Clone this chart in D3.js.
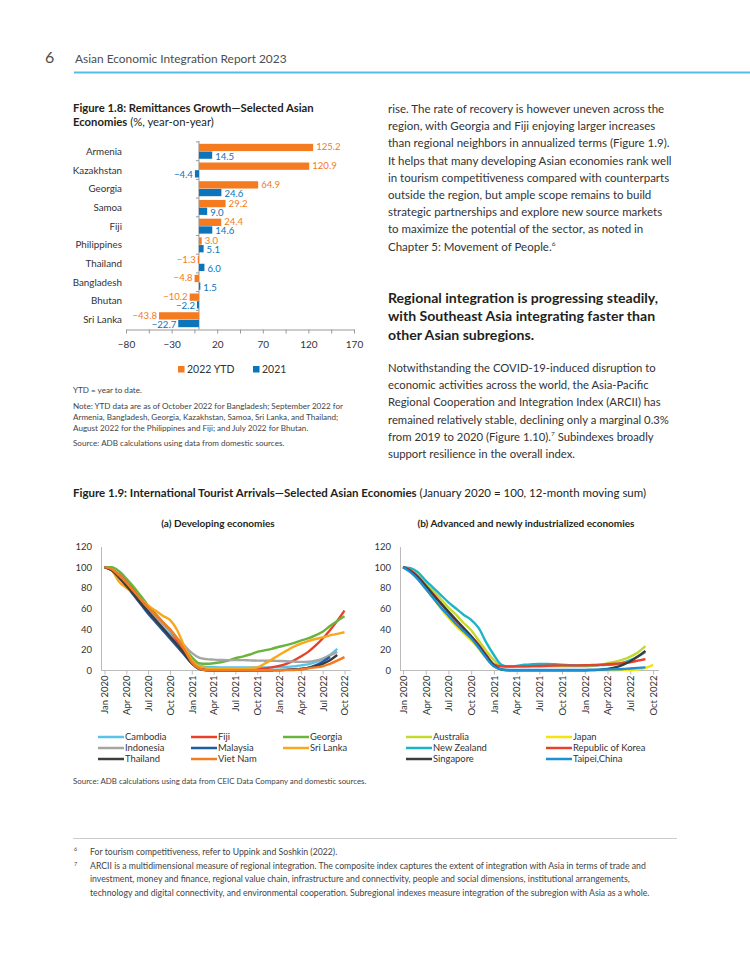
<!DOCTYPE html>
<meta charset="utf-8">
<style>
body { margin: 0; background: #fff; }
svg { display: block; font-family: Lato, "Open Sans", sans-serif; }
</style>
<body>
<script src="https://cdn.jsdelivr.net/npm/d3@7"></script>
<script>

// ---- Figure 1.8 data
var barCategories = ["Armenia", "Kazakhstan", "Georgia", "Samoa", "Fiji",
                     "Philippines", "Thailand", "Bangladesh", "Bhutan", "Sri Lanka"];
var remit2022 = [125.2, 120.9, 64.9, 29.2, 24.4, 3.0, -1.3, -4.8, -10.2, -43.8];
var remit2021 = [14.5, -4.4, 24.6, 9.0, 14.6, 5.1, 6.0, 1.5, -2.2, -22.7];
var barTicks = [-80, -30, 20, 70, 120, 170];
var barSeries = ["2022 YTD", "2021"];

// ---- Figure 1.9 data (Jan 2020 .. Oct 2022, monthly, Jan 2020 = 100)
var quarterTicks = ["Jan 2020", "Apr 2020", "Jul 2020", "Oct 2020", "Jan 2021", "Apr 2021",
                    "Jul 2021", "Oct 2021", "Jan 2022", "Apr 2022", "Jul 2022", "Oct 2022"];
var lineTicks = [0, 20, 40, 60, 80, 100, 120];

var cambodia  = [100,97,91,83,75,67,58,50,42,34,26,18,11,5,3.5,3.2,3,3,3,3,3,3,3,3,3.2,3.5,4,5,6,8,11,15,21,null];
var fiji      = [100,98,93,86,78,70,62,54,46,38,29,19,8,2,0.5,0.3,0.3,0.3,0.3,0.3,0.5,1,2,3,4.5,6.5,9.5,13.5,18,24,31,39,48,58];
var georgia   = [100,100,96,89,81,72,63,55,47,39,31,22,13,7,6.5,7,8,9.5,12,13.5,15.5,18,19.5,21,23,24.5,26.5,29,31,34,37.5,43,48,52.5];
var indonesia = [100,98,92,84,76,68,60,52,45,38,31,24,17,12.5,11,10.5,10.2,10,10,10,9.8,9.6,9.5,9.4,9.2,9,8.6,8.3,8.5,9.5,11.5,14.5,18,null];
var malaysia  = [100,97,90,82,73,64,55,47,39,31,23,15,7,2,0.5,0.2,0.2,0.2,0.2,0.2,0.2,0.2,0.2,0.3,0.4,0.6,1,1.5,2.5,5,8.5,13,null,null];
var sriLanka  = [100,97,86,80,75,69,63,58,53,49,39,23,10,4,2.5,2.2,2,2,2,2.2,2.5,3,6.5,10.5,15,19,23,26,28.5,30.5,32,34,35.5,37];
var thailand  = [100,97,90,82,74,65,57,49,41,33,25,16,7,1.5,0.3,0.2,0.2,0.2,0.2,0.2,0.2,0.2,0.2,0.3,0.4,0.6,1,1.5,2.5,4,6.5,10,15,null];
var vietNam   = [100,98,92,85,77,69,61,54,47,40,31,20,8,2,0.3,0.2,0.2,0.2,0.2,0.2,0.2,0.2,0.2,0.2,0.3,0.4,0.5,1,2,3,4,6.5,9.5,13];

var australia = [100,97,92,84,77,69,61,54,46,39,29,19,10,4,3.5,3.6,3.7,3.8,3.9,4,4,4,4,4,4,4.5,5.5,7,8.5,10.5,13.5,17.5,23.5,null];
var japan     = [100,96,89,79,70,60,51,43,36,29,21,12,4,0.8,0.3,0.2,0.2,0.2,0.2,0.2,0.2,0.2,0.2,0.2,0.2,0.2,0.2,0.3,0.3,0.4,0.5,0.8,2.5,5.5];
var newZealand= [100,99,95,87,80,73,66,60,54,49,41,27,15,5.5,3.8,4.5,5.5,6,6.3,6.3,6,5.5,5.2,5,5,5,5.2,5.5,6,7.5,10,13.5,18,null];
var korea     = [100,97,91,82,74,65,56,48,41,33,25,15,6,4,4,4,4,4.2,4.4,4.6,4.8,5,5,5,5.1,5.3,5.5,6,6.5,7,8,9.5,11,null];
var singapore = [100,96,90,82,73,65,57,49,41,33,24,14,5,1,0.3,0.2,0.2,0.2,0.2,0.2,0.2,0.2,0.2,0.2,0.3,0.5,0.8,1.5,3,5.5,9,13.5,19,null];
var taipei    = [100,95,88,79,70,61,53,45,38,31,22,12,4,1,0.5,0.5,0.5,0.5,0.5,0.5,0.5,0.5,0.5,0.5,0.5,0.6,0.8,1,1.2,1.5,2,2.5,3,null];

var developing = [
  ["Cambodia", cambodia], ["Fiji", fiji], ["Georgia", georgia],
  ["Indonesia", indonesia], ["Malaysia", malaysia], ["Sri Lanka", sriLanka],
  ["Thailand", thailand], ["Viet Nam", vietNam]
];
var advanced = [
  ["Australia", australia], ["Japan", japan], ["New Zealand", newZealand],
  ["Republic of Korea", korea], ["Singapore", singapore], ["Taipei,China", taipei]
];

var colors = {
  "Cambodia": "#58c3ec", "Fiji": "#e8412b", "Georgia": "#6ab43e",
  "Indonesia": "#a5a5a5", "Malaysia": "#1f5ca6", "Sri Lanka": "#f7a81b",
  "Thailand": "#3d3d3d", "Viet Nam": "#f47b20",
  "Australia": "#c4d82e", "Japan": "#f6e30c", "New Zealand": "#1cb5c8",
  "Republic of Korea": "#e8412b", "Singapore": "#3d3d3d", "Taipei,China": "#1b8fd8",
  "2022 YTD": "#f47b20", "2021": "#0b74bb"
};

// ---- page text
var paraTop = [
  "rise. The rate of recovery is however uneven across the",
  "region, with Georgia and Fiji enjoying larger increases",
  "than regional neighbors in annualized terms (Figure 1.9).",
  "It helps that many developing Asian economies rank well",
  "in tourism competitiveness compared with counterparts",
  "outside the region, but ample scope remains to build",
  "strategic partnerships and explore new source markets",
  "to maximize the potential of the sector, as noted in",
  "Chapter 5: Movement of People."
];
var heading = [
  "Regional integration is progressing steadily,",
  "with Southeast Asia integrating faster than",
  "other Asian subregions."
];
var paraBottom = [
  "Notwithstanding the COVID-19-induced disruption to",
  "economic activities across the world, the Asia-Pacific",
  "Regional Cooperation and Integration Index (ARCII) has",
  "remained relatively stable, declining only a marginal 0.3%",
  "from 2019 to 2020 (Figure 1.10).",
  "support resilience in the overall index."
];
var notes18 = [
  "Note: YTD data are as of October 2022 for Bangladesh; September 2022 for",
  "Armenia, Bangladesh, Georgia, Kazakhstan, Samoa, Sri Lanka, and Thailand;",
  "August 2022 for the Philippines and Fiji; and July 2022 for Bhutan."
];
var footnote7 = [
  "ARCII is a multidimensional measure of regional integration. The composite index captures the extent of integration with Asia in terms of trade and",
  "investment, money and finance, regional value chain, infrastructure and connectivity, people and social dimensions, institutional arrangements,",
  "technology and digital connectivity, and environmental cooperation. Subregional indexes measure integration of the subregion with Asia as a whole."
];

var width = 750, height = 971;
var textColor = "#333";

var svg = d3.select("body").append("svg")
    .attr("width", width)
    .attr("height", height);

svg.append("rect").attr("width", width).attr("height", height).attr("fill", "#fff");

function lines(arr, x, y0, step, size, color, weight) {
  return svg.append("g").selectAll("text").data(arr).enter().append("text")
    .attr("x", x)
    .attr("y", function(d, i){ return y0 + i * step; })
    .attr("font-size", size)
    .attr("font-weight", weight || "normal")
    .attr("fill", color)
    .text(function(d){ return d; });
}

// ---- header
svg.append("text").attr("x", 45).attr("y", 63).attr("font-size", 16)
  .attr("fill", "#4d4d4d").text("6");
svg.append("text").attr("x", 75).attr("y", 63).attr("font-size", 11.9)
  .attr("fill", "#4d4d4d").text("Asian Economic Integration Report 2023");
svg.append("line").attr("x1", 74).attr("x2", 750).attr("y1", 72.5).attr("y2", 72.5)
  .attr("stroke", "#55bde6").attr("stroke-width", 2);

// ---- right column text
var pt = lines(paraTop, 388, 113, 17.2, 11.5, textColor);
pt.filter(function(d, i){ return i === paraTop.length - 1; })
  .append("tspan").attr("font-size", 6.5).attr("dy", -5).text("6");

lines(heading, 388, 303, 18.4, 14.1, "#231f20", "bold");

var pb = lines(paraBottom, 388, 372, 17.2, 11.3, textColor);
pb.filter(function(d, i){ return i === 4; }).each(function(){
  var t = d3.select(this);
  t.append("tspan").attr("font-size", 6.5).attr("dy", -5).text("7");
  t.append("tspan").attr("dy", 5).text(" Subindexes broadly");
});

// ---- Figure 1.8 title
var t18 = svg.append("text").attr("x", 73).attr("y", 112).attr("font-size", 11.3)
  .attr("fill", "#231f20").attr("font-weight", "bold");
t18.text("Figure 1.8: Remittances Growth\u2014Selected Asian");
var t18b = svg.append("text").attr("x", 73).attr("y", 126).attr("font-size", 11.3)
  .attr("fill", "#231f20");
t18b.append("tspan").attr("font-weight", "bold").text("Economies");
t18b.append("tspan").text(" (%, year-on-year)");

// ---- Figure 1.8 bars
var xb = d3.scaleLinear().domain([-80, 170]).range([126, 354]);
var yb = d3.scaleBand().domain(barCategories).range([141, 330])
  .paddingInner(0.2).paddingOuter(0.15);
var ys = d3.scaleBand().domain(barSeries).range([0, yb.bandwidth()]).paddingInner(0.05);

var fmtVal = function(v){ return (v < 0 ? "\u2212" : "") + Math.abs(v).toFixed(1); };
var fmtTick = function(v){ return (v < 0 ? "\u2212" : "") + Math.abs(v); };

var barData = [];
barCategories.forEach(function(c, i){
  barData.push({cat: c, s: "2022 YTD", v: remit2022[i]});
  barData.push({cat: c, s: "2021", v: remit2021[i]});
});

var gb = svg.append("g");

// x axis
var xAxis = d3.axisBottom(xb).tickValues(d3.range(-80, 171, 25))
  .tickSize(4).tickSizeOuter(0).tickPadding(7)
  .tickFormat(function(d){ return barTicks.indexOf(d) >= 0 ? fmtTick(d) : ""; });
var gxa = gb.append("g").attr("transform", "translate(0,329.5)").call(xAxis);
gxa.select(".domain").attr("stroke", "#999");
gxa.selectAll(".tick line").attr("stroke", "#999");
gxa.selectAll(".tick text").attr("font-size", 10).attr("fill", textColor)
  .attr("font-family", "Lato, sans-serif");

// zero line with small category ticks
gb.append("line").attr("x1", xb(0)).attr("x2", xb(0)).attr("y1", 141).attr("y2", 329.5)
  .attr("stroke", "#999");
gb.selectAll(".ctick").data(barCategories).enter().append("line")
  .attr("x1", xb(0) - 3).attr("x2", xb(0))
  .attr("y1", function(d){ return yb(d) - yb.step() * 0.1; })
  .attr("y2", function(d){ return yb(d) - yb.step() * 0.1; })
  .attr("stroke", "#999");

gb.selectAll(".bar").data(barData).enter().append("rect")
  .attr("x", function(d){ return xb(Math.min(0, d.v)); })
  .attr("width", function(d){ return Math.abs(xb(d.v) - xb(0)); })
  .attr("y", function(d){ return yb(d.cat) + ys(d.s); })
  .attr("height", ys.bandwidth())
  .attr("fill", function(d){ return colors[d.s]; });

gb.selectAll(".val").data(barData).enter().append("text")
  .attr("x", function(d){ return d.v >= 0 ? xb(d.v) + 3 : xb(d.v) - 2; })
  .attr("y", function(d){
    return yb(d.cat) + ys(d.s) + ys.bandwidth() / 2 + (d.s === "2021" ? 4.5 : 3);
  })
  .attr("text-anchor", function(d){ return d.v >= 0 ? "start" : "end"; })
  .attr("font-size", 9.6)
  .attr("fill", function(d){ return colors[d.s]; })
  .text(function(d){ return fmtVal(d.v); });

gb.selectAll(".cat").data(barCategories).enter().append("text")
  .attr("x", 122)
  .attr("y", function(d){ return yb(d) + yb.bandwidth() / 2 + 3.5; })
  .attr("text-anchor", "end")
  .attr("font-size", 9.8)
  .attr("fill", textColor)
  .text(function(d){ return d; });

// legend
var lg = gb.selectAll(".lg").data(barSeries).enter().append("g")
  .attr("transform", function(d, i){ return "translate(" + (i ? 253 : 178) + ",366)"; });
lg.append("rect").attr("width", 6.5).attr("height", 6.5)
  .attr("fill", function(d){ return colors[d]; });
lg.append("text").attr("x", 9).attr("y", 6.5).attr("font-size", 10.5)
  .attr("fill", textColor).text(function(d){ return d; });

// notes
lines(["YTD = year to date."], 73, 393, 0, 8.1, "#444");
lines(notes18, 73, 409, 11, 8.1, "#444");
lines(["Source: ADB calculations using data from domestic  sources."], 73, 446, 0, 8.1, "#444");

// ---- Figure 1.9 title
var t19 = svg.append("text").attr("x", 73).attr("y", 497).attr("font-size", 11.5)
  .attr("fill", "#231f20");
t19.append("tspan").attr("font-weight", "bold")
  .text("Figure 1.9: International Tourist Arrivals\u2014Selected Asian Economies");
t19.append("tspan").text(" (January 2020 = 100, 12-month moving sum)");

svg.append("text").attr("x", 218).attr("y", 527).attr("text-anchor", "middle")
  .attr("font-size", 10).attr("font-weight", "bold").attr("fill", "#231f20")
  .text("(a) Developing economies");
svg.append("text").attr("x", 526).attr("y", 527).attr("text-anchor", "middle")
  .attr("font-size", 10).attr("font-weight", "bold").attr("fill", "#231f20")
  .text("(b) Advanced and newly industrialized economies");

var monthIdx = d3.range(cambodia.length);
var yl = d3.scaleLinear().domain([0, 120]).range([670.5, 546.5]);

function lineChart(series, x0, x1, axisX, axisEnd) {
  var x = d3.scaleLinear().domain([0, monthIdx.length - 1]).range([x0, x1]);
  var g = svg.append("g");

  var ya = d3.axisLeft(yl).tickValues(lineTicks).tickSize(0).tickPadding(9);
  var gy = g.append("g").attr("transform", "translate(" + axisX + ",0)").call(ya);
  gy.select(".domain").attr("stroke", "#bbb");
  gy.selectAll("text").attr("font-size", 9.5).attr("fill", textColor)
    .attr("font-family", "Lato, sans-serif");

  var xa = d3.axisBottom(x)
    .tickValues(quarterTicks.map(function(d, i){ return i * 3; }))
    .tickFormat(function(d){ return quarterTicks[d / 3]; })
    .tickSize(4).tickSizeOuter(0);
  var gx = g.append("g").attr("transform", "translate(0," + yl(0) + ")").call(xa);
  gx.select(".domain").remove();
  gx.selectAll(".tick line").attr("stroke", "#bbb");
  gx.selectAll("text")
    .attr("transform", "rotate(-90)")
    .attr("x", -5).attr("y", 0).attr("dy", "0.35em")
    .attr("text-anchor", "end")
    .attr("font-size", 9.5).attr("fill", textColor)
    .attr("font-family", "Lato, sans-serif");
  g.append("line").attr("x1", axisX).attr("x2", axisEnd)
    .attr("y1", yl(0)).attr("y2", yl(0)).attr("stroke", "#bbb");

  var line = d3.line()
    .defined(function(d){ return d != null; })
    .x(function(d, i){ return x(i); })
    .y(function(d){ return yl(d); })
    .curve(d3.curveMonotoneX);

  g.selectAll(".series").data(series).enter().append("path")
    .attr("fill", "none")
    .attr("stroke", function(d){ return colors[d[0]]; })
    .attr("stroke-width", 2.4)
    .attr("stroke-linejoin", "round")
    .attr("d", function(d){ return line(d[1]); });
}

lineChart(developing, 104.5, 344.5, 101, 351);
lineChart(advanced, 403, 653, 400, 659);

function legend(series, cols, rowY) {
  var g = svg.append("g");
  var item = g.selectAll("g").data(series).enter().append("g")
    .attr("transform", function(d, i){
      return "translate(" + cols[i % cols.length] + "," + (rowY + Math.floor(i / cols.length) * 11) + ")";
    });
  item.append("line").attr("x1", 0).attr("x2", 26).attr("y1", -3).attr("y2", -3)
    .attr("stroke", function(d){ return colors[d[0]]; }).attr("stroke-width", 2.5);
  item.append("text").attr("x", 27).attr("y", 0).attr("font-size", 9.4)
    .attr("fill", textColor).text(function(d){ return d[0]; });
}
legend(developing, [98, 191, 283], 740);
legend(advanced, [406, 546], 740);

lines(["Source: ADB calculations using data from CEIC Data Company and domestic sources."],
  73, 784, 0, 7.9, "#444");

// ---- footnotes
svg.append("line").attr("x1", 73).attr("x2", 677).attr("y1", 838.5).attr("y2", 838.5)
  .attr("stroke", "#ccc");
lines(["6"], 74, 851, 0, 5.5, "#444");
lines(["For tourism competitiveness, refer to Uppink and Soshkin (2022)."], 90, 855, 0, 8.7, "#444");
lines(["7"], 74, 866, 0, 5.5, "#444");
lines(footnote7, 90, 869, 13.3, 8.7, "#444");

</script>
</body>
